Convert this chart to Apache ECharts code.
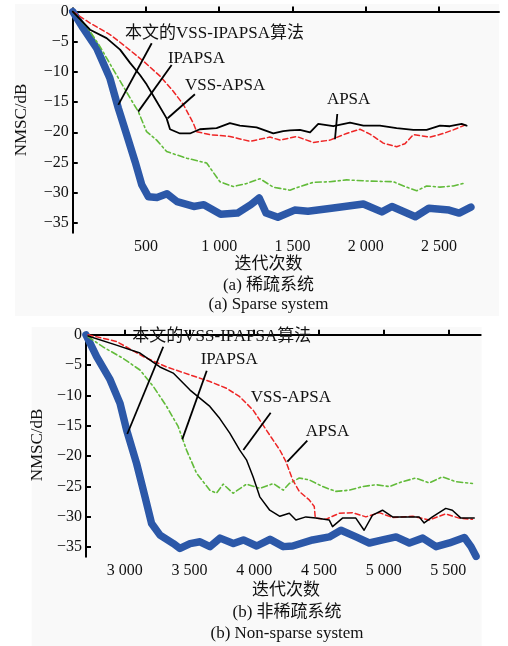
<!DOCTYPE html>
<html><head><meta charset="utf-8">
<script src="https://cdn.jsdelivr.net/npm/echarts@6/dist/echarts.min.js"></script>
<style>html,body{margin:0;padding:0;background:#fff}#c{width:508px;height:646px}</style>
</head><body><div id="c"></div>
<script>
// ---------- data: (a) sparse system ----------
var sparseVssIpapsa = [[0,0],[70,-2.7],[162,-6],[253,-11],[311,-16],[368,-20.4],[426,-24.9],[471,-28.7],[517,-30.7],[575,-30.8],[643,-30.2],[712,-31.5],[826,-32.3],[895,-32],[1010,-33.6],[1125,-33.4],[1216,-32],[1273,-30.9],[1320,-33.4],[1400,-34.1],[1515,-32.9],[1606,-33.1],[1766,-32.6],[1984,-31.9],[2110,-33.2],[2179,-32.3],[2339,-34],[2431,-32.6],[2569,-32.9],[2638,-33.4],[2718,-32.4]];
var sparseIpapsa = [[0,0],[100,-2.6],[186,-5.8],[277,-9.6],[391,-14.3],[448,-16.6],[504,-19.9],[573,-21.3],[641,-23.2],[778,-24.3],[914,-25.1],[1005,-28.2],[1096,-29],[1187,-28.5],[1278,-27.7],[1369,-29.1],[1415,-29.3],[1483,-29.6],[1551,-29],[1642,-28.3],[1756,-28.2],[1869,-27.9],[2029,-28.1],[2188,-28.2],[2279,-29.1],[2348,-29.7],[2416,-28.9],[2507,-29.1],[2598,-28.9],[2678,-28.4]];
var sparseVssApsa = [[0,0],[118,-3],[231,-4.4],[323,-6.3],[391,-8.5],[459,-10.5],[505,-12.1],[573,-14.9],[641,-17.7],[664,-19.5],[732,-20.2],[800,-20.2],[868,-19.5],[982,-19.3],[1073,-18.5],[1141,-18.9],[1255,-19.2],[1369,-20.2],[1437,-19.8],[1483,-19.7],[1551,-19.6],[1620,-20],[1676,-18.6],[1779,-19],[1893,-18.4],[1984,-18.9],[2097,-18.9],[2211,-19.3],[2325,-19.6],[2416,-19.6],[2507,-18.9],[2575,-19],[2655,-18.6],[2689,-18.9]];
var sparseApsa = [[0,0],[118,-1.9],[254,-3.8],[345,-5.5],[482,-8.2],[596,-10.7],[686,-13.2],[755,-15.4],[823,-18.5],[846,-19.9],[937,-20.4],[1073,-20.7],[1210,-21.5],[1346,-20.8],[1415,-21.3],[1528,-20.7],[1642,-21.7],[1756,-21.3],[1869,-20.2],[1961,-19.5],[2029,-20.3],[2120,-21.8],[2211,-22.4],[2268,-21.9],[2325,-20.4],[2439,-20.8],[2530,-20.2],[2598,-19.6],[2678,-18.8]];
// ---------- data: (b) non-sparse system ----------
var denseVssIpapsa = [[2700,0],[2782,-3.6],[2886,-7.4],[2963,-11.3],[3014,-15.7],[3091,-21.2],[3156,-26.7],[3207,-31.1],[3272,-33],[3375,-34.4],[3426,-35.2],[3504,-34.4],[3581,-34.1],[3658,-34.9],[3736,-33.5],[3839,-34.4],[3916,-33.8],[4019,-34.8],[4122,-33.7],[4225,-34.9],[4297,-34.8],[4451,-33.8],[4580,-33.3],[4670,-32.2],[4787,-33.3],[4889,-34.3],[4992,-33.8],[5096,-33.3],[5199,-34.3],[5302,-33.5],[5405,-34.9],[5508,-34.3],[5624,-33.4],[5675,-34.9],[5714,-36.5]];
var denseIpapsa = [[2716,-0.3],[2832,-2],[2988,-3.9],[3117,-5.8],[3220,-8.5],[3323,-11.8],[3412,-15.1],[3477,-19],[3554,-22.8],[3657,-25.6],[3708,-26.1],[3760,-24.6],[3837,-26.1],[3940,-24.6],[4044,-25.3],[4147,-24.5],[4224,-25.6],[4271,-24.5],[4348,-23.6],[4425,-23.9],[4528,-25],[4631,-25.8],[4734,-25.6],[4837,-25],[4940,-24.7],[5043,-25],[5145,-24.2],[5248,-23.6],[5351,-24.4],[5454,-23.4],[5557,-24.2],[5686,-24.5]];
var denseVssApsa = [[2716,-0.2],[2935,-1.7],[3117,-3],[3271,-5.3],[3374,-6.3],[3504,-9.1],[3657,-11.8],[3734,-13.8],[3811,-16.2],[3888,-19],[3940,-20.6],[3991,-23.4],[4043,-26.7],[4120,-28.9],[4198,-29.9],[4271,-29.4],[4322,-30.5],[4399,-30],[4476,-30.2],[4579,-30.5],[4605,-31.6],[4682,-30.2],[4785,-30.2],[4849,-32.2],[4914,-29.7],[4991,-28.9],[5069,-30],[5172,-30],[5274,-30],[5313,-31],[5377,-30],[5480,-28.6],[5531,-28.9],[5597,-30.2],[5700,-30.2]];
var denseApsa = [[2716,0],[2937,-1.1],[3143,-3.6],[3323,-5.3],[3504,-6.6],[3657,-7.7],[3786,-8.8],[3888,-10.2],[3991,-12.4],[4094,-15.7],[4198,-19],[4245,-20.9],[4297,-23.9],[4348,-25.8],[4425,-27.2],[4464,-28.3],[4472,-30.2],[4554,-30.4],[4657,-29.4],[4760,-29.3],[4863,-30],[4966,-29.3],[5069,-30.1],[5224,-29.9],[5351,-30.5],[5480,-29.5],[5583,-30.2],[5686,-30.4]];
// ---------- ticks ----------
var yTicks = [0,-5,-10,-15,-20,-25,-30,-35];
var xTicksSparse = [500,1000,1500,2000,2500];
var xTicksDense = [3000,3500,4000,4500,5000,5500];
// ---------- annotations (data coords) ----------
var annoNames = ['本文的VSS-IPAPSA算法','IPAPSA','VSS-APSA','APSA'];
var annoTextSparse = [[357,-3.7],[650,-7.7],[766,-12.3],[1735,-14.5]];
var annoLineSparse = [[[539,-5.24],[311,-15.47]],[[675,-8.84],[447,-16.58]],[[834,-13.7],[648,-17.68]],[[1806,-16.97],[1790,-21.16]]];
var annoTextDense = [[3058,-0.28],[3586,-3.99],[3973,-10.33],[4398,-15.96]];
var annoLineDense = [[[3297,-1.96],[3019,-16.34]],[[3633,-5.91],[3444,-17.22]],[[4127,-12.83],[3916,-18.98]],[[4410,-17.45],[4256,-20.91]]];

var FONT = "'Liberation Serif','Noto Sans CJK SC',serif";
var chart = echarts.init(document.getElementById('c'), null, {renderer:'canvas'});

function fmtY(v){ return v < 0 ? '\u2212' + Math.abs(v) : String(v); }
function fmtX(v){ return v >= 1000 ? Math.floor(v/1000) + ' ' + String(v%1000).padStart(3,'0') : String(v); }

function xAxisCfg(idx, min, max, ticks){
  return {type:'value', gridIndex:idx, min:min, max:max,
    axisLine:{lineStyle:{color:'#000', width:2}},
    axisTick:{inside:true, length:5, lineStyle:{color:'#000', width:2}, customValues:ticks},
    axisLabel:{customValues:ticks, formatter:fmtX, color:'#111', fontFamily:FONT, fontSize:16, margin:6},
    splitLine:{show:false}};
}
function yAxisCfg(idx, min, max){
  return {type:'value', gridIndex:idx, min:min, max:max,
    axisLine:{onZero:false, lineStyle:{color:'#000', width:2}},
    axisTick:{inside:true, length:5, lineStyle:{color:'#000', width:2}, customValues:yTicks},
    axisLabel:{customValues:yTicks, formatter:fmtY, color:'#111', fontFamily:FONT, fontSize:16, margin:4},
    splitLine:{show:false}};
}
function ser(idx, data, color, width, type){
  return {type:'line', xAxisIndex:idx, yAxisIndex:idx, data:data, showSymbol:false, symbol:'none',
    lineStyle:{color:color, width:width, type:type, join:'round', cap:'round'}, animation:false, z:width>4?2:3};
}
var BLUE='#2c58a8', GREEN='#62bb3a', RED='#ee2626', BLACK='#000';

chart.setOption({
  animation:false,
  backgroundColor:'#ffffff',
  grid:[{left:72.75, top:8.3, width:426.25, height:224.4},
        {left:86, top:332.7, width:394.7, height:224}],
  xAxis:[xAxisCfg(0,0,2910,xTicksSparse), xAxisCfg(1,2700,5750,xTicksDense)],
  yAxis:[yAxisCfg(0,-36.65,0.55), yAxisCfg(1,-36.56,0.35)],
  series:[
    ser(0, sparseVssIpapsa, BLUE, 7.5, 'solid'),
    ser(0, sparseIpapsa, GREEN, 1.6, [6,3,2,3]),
    ser(0, sparseApsa, RED, 1.5, [5,3]),
    ser(0, sparseVssApsa, BLACK, 1.8, 'solid'),
    ser(1, denseVssIpapsa, BLUE, 7.5, 'solid'),
    ser(1, denseIpapsa, GREEN, 1.6, [6,3,2,3]),
    ser(1, denseApsa, RED, 1.5, [5,3]),
    ser(1, denseVssApsa, BLACK, 1.5, 'solid')
  ]
});

function buildGraphic(){
  var g = [];
  g.push({type:'rect', z:-10, shape:{x:15,y:4,width:484,height:312}, style:{fill:'#f9f9f9'}, silent:true});
  g.push({type:'rect', z:-10, shape:{x:31.7,y:327,width:450,height:319}, style:{fill:'#f9f9f9'}, silent:true});
  function txt(t, x, y, size, align, rot){
    g.push({type:'text', z:20, x:x, y:y, rotation:rot||0,
      style:{text:t, x:0, y:0, fill:'#111', font:size+'px '+FONT, align:align||'center', verticalAlign:'middle'}});
  }
  function anno(gi, texts, lines){
    for (var i=0;i<texts.length;i++){
      var p = chart.convertToPixel({gridIndex:gi}, texts[i]);
      txt(annoNames[i], p[0], p[1], 17, 'left');
      var a = chart.convertToPixel({gridIndex:gi}, lines[i][0]);
      var b = chart.convertToPixel({gridIndex:gi}, lines[i][1]);
      g.push({type:'line', z:20, shape:{x1:a[0],y1:a[1],x2:b[0],y2:b[1]}, style:{stroke:'#000', lineWidth:1.8}});
    }
  }
  anno(0, annoTextSparse, annoLineSparse);
  anno(1, annoTextDense, annoLineDense);
  txt('NMSC/dB', 22, 120, 17, 'center', Math.PI/2);
  txt('NMSC/dB', 38, 445, 17, 'center', Math.PI/2);
  txt('迭代次数', 268.5, 265, 17);
  txt('(a) 稀疏系统', 268.5, 286, 17);
  txt('(a) Sparse system', 268.5, 305, 17);
  txt('迭代次数', 286, 591, 17);
  txt('(b) 非稀疏系统', 287, 613, 17);
  txt('(b) Non-sparse system', 287, 634, 17);
  chart.setOption({graphic:g});
}
buildGraphic();
</script></body></html>
